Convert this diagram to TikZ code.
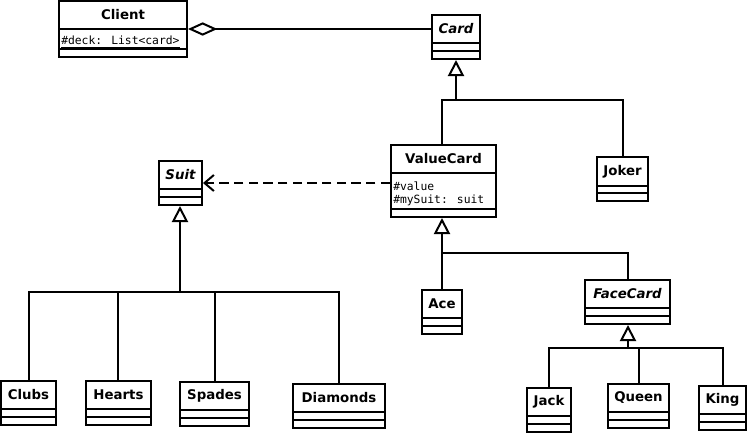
\documentclass[tikz,border=0pt]{standalone}
\usepackage{fontspec}
\setmainfont{DejaVu Sans}
\newfontfamily\monof{DejaVu Sans Mono}
\usetikzlibrary{fit,arrows.meta}
\newcommand\umlbox[8]{%
  \node[fit={(#2,#3)(#4,#5)},inner sep=0pt,draw,cls](#1){};
  \draw[cls] (#2,#6) -- (#4,#6) (#2,#7) -- (#4,#7);
  \node[title] at ($(#2,#3)!0.5!(#4,#6)$) {#8};}
\usetikzlibrary{calc}
\begin{document}
\begin{tikzpicture}[x=0.75pt,y=-0.75pt,
  cls/.style={line width=1.5pt},
  title/.style={font=\fontsize{10}{12}\selectfont\bfseries,inner sep=0pt},
  attr/.style={font=\monof\fontsize{8.5}{10}\selectfont,inner sep=0pt,anchor=west},
  gen/.style={line width=1.5pt},
  tri/.style={-{Triangle[open,length=12pt,width=12pt]},line width=1.5pt}]
\useasboundingbox (0,0) rectangle (749,436);
\umlbox{client}{59}{1}{187}{57}{29}{49}{Client}
\node[attr] at (61,42) {\underline{\#deck: List<card>}};
\umlbox{card}{432}{15}{480}{59}{43}{51}{\itshape Card}
\umlbox{vc}{391}{145}{496}{217}{173}{209}{ValueCard}
\node[attr] at (393,186) {\#value};
\node[attr] at (393,202) {\underline{\#mySuit: suit}};
\umlbox{joker}{597}{157}{648}{201}{186}{193}{Joker}
\umlbox{suit}{159}{161}{202}{205}{189}{197}{\itshape Suit}
\umlbox{clubs}{1}{381}{56}{425}{409}{417}{Clubs}
\umlbox{hearts}{86}{381}{151}{425}{409}{417}{Hearts}
\umlbox{spades}{180}{382}{249}{426}{410}{418}{Spades}
\umlbox{diamonds}{293}{384}{385}{428}{412}{420}{Diamonds}
\umlbox{ace}{422}{290}{462}{334}{318}{326}{Ace}
\umlbox{face}{585}{280}{670}{324}{308}{316}{\itshape FaceCard}
\umlbox{jack}{527}{388}{571}{432}{416}{424}{Jack}
\umlbox{queen}{608}{384}{669}{428}{412}{420}{Queen}
\umlbox{king}{699}{386}{746}{430}{414}{422}{King}
% aggregation
\draw[line width=1.5pt,{Diamond[open,length=22pt,width=10pt]}-] (client.east |- 0,29) -- (card.west |- 0,29);
% dependency
\draw[line width=1.5pt,dash pattern=on 7pt off 4pt,-{Straight Barb[length=7pt,width=12pt]}] (vc.west |- 0,183) -- (suit.east |- 0,183);
% Card generalization
\coordinate (cj) at (456,100);
\draw[gen] (vc.north -| 442,0) |- (623,100) -- (joker.north -| 623,0);
\draw[tri] (cj) -- (card.south -| 456,0);
% Suit generalization
\coordinate (sj) at (180,292);
\draw[gen] (clubs.north -| 29,0) |- (339,292) -- (diamonds.north -| 339,0);
\draw[gen] (hearts.north -| 118,0) -- (118,292) (spades.north -| 215,0) -- (215,292);
\draw[tri] (sj) -- (suit.south -| 180,0);
% ValueCard generalization
\coordinate (vj) at (442,253);
\draw[gen] (ace.north -| 442,0) -- (vj) -| (face.north -| 628,0);
\draw[tri] (vj) -- (vc.south -| 442,0);
% FaceCard generalization
\coordinate (fj) at (628,348);
\draw[gen] (jack.north -| 549,0) |- (723,348) -- (king.north -| 723,0);
\draw[gen] (queen.north -| 639,0) -- (639,348);
\draw[tri] (fj) -- (face.south -| 628,0);
\end{tikzpicture}
\end{document}
